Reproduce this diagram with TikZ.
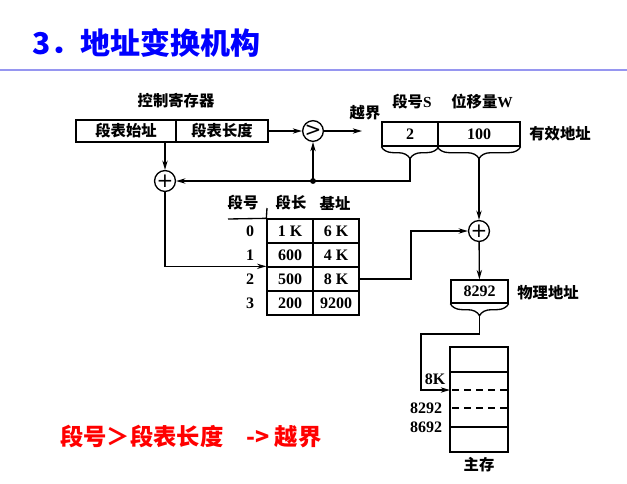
\documentclass[tikz,border=0pt]{standalone}
\usepackage{fontspec}
\setmainfont{Liberation Serif}
\newfontfamily\cjk{Noto Sans CJK SC}
\newfontfamily\symf{DejaVu Sans}
\usetikzlibrary{arrows.meta,decorations.pathreplacing,calc}
\definecolor{rulecol}{RGB}{150,150,240}
\begin{document}
\begin{tikzpicture}[x=0.75pt,y=-0.75pt,
  conn/.style={line width=1pt},
  arr/.style={conn,-{Stealth[length=7pt,width=4pt]}},
  cell/.style={draw,line width=1pt,inner sep=0pt,font=\bfseries\fontsize{12}{14}\selectfont,minimum height=18pt},
  ccell/.style={cell,font=\cjk\bfseries\fontsize{11.5}{14}\selectfont},
  lab/.style={inner sep=0pt,font=\cjk\bfseries\fontsize{11.5}{13}\selectfont},
  num/.style={inner sep=0pt,font=\bfseries\fontsize{12}{14}\selectfont},
  sumc/.style={draw,circle,line width=1pt,minimum size=15.5pt,inner sep=0pt,font=\symf\fontsize{15}{15}\selectfont},
  brc/.style={decorate,decoration={brace,mirror,amplitude=9pt},line width=1pt}
]
\useasboundingbox (0,0) rectangle (627,483);
% title
\node[anchor=west,inner sep=0pt,text=blue,font=\cjk\bfseries\fontsize{22.5}{26}\selectfont] (title) at (32,43) {3．地址变换机构};
\draw[rulecol,line width=1.5pt] (0,70) -- (627,70);
% control register
\node[lab] (crlab) at (176,101) {控制寄存器};
\node[ccell,minimum width=75pt,minimum height=16.5pt] (cstart) at (126,131) {段表始址};
\node[ccell,minimum width=69pt,minimum height=16.5pt] (clen) at (222,131) {段表长度};
\node[sumc] (cmp) at (313,131) {>};
\coordinate (ovf) at (362,131);
\draw[arr] (clen) -- (cmp);
\draw[arr] (cmp) -- (ovf);
\node[lab] (ovflab) at (365,113) {越界};
% logical address
\node[cell,minimum width=42pt] (segS) at (410,134) {2};
\node[cell,minimum width=61.5pt] (offW) at (479,134) {100};
\node[lab] (Slab) at (412,102) {段号{\rmfamily\bfseries S}};
\node[lab] (Wlab) at (482,102) {位移量{\rmfamily\bfseries W}};
\node[lab] (ealab) at (560,134) {有效地址};
\draw[brc] (segS.south west) -- (segS.south east);
\draw[brc] (offW.south west) -- (offW.south east);
\coordinate (segtip) at ($(segS.south)+(0,12)$);
\coordinate (offtip) at ($(offW.south)+(0,12)$);
% adder 1
\node[sumc] (add1) at (165,181) {+};
\draw[arr] (add1 |- cstart.south) -- (add1);
\draw[arr] (segtip) |- (add1);
\coordinate (junc) at (313,181);
\fill (junc) circle (2.2pt);
\draw[arr] (junc) -- (cmp);
% segment table
\node[lab] (h0) at (243,203) {段号};
\node[lab] (h1) at (291,203) {段长};
\node[lab] (h2) at (335,203) {基址};
\foreach \i/\l/\b in {0/1 K/6 K,1/600/4 K,2/500/8 K,3/200/9200}{
  \node[cell,minimum width=34.5pt] (t\i l) at (290,231+24*\i) {\l};
  \node[cell,minimum width=34.5pt] (t\i b) at (336,231+24*\i) {\b};
  \node[num] (r\i) at (250,231+24*\i) {\i};
}
\draw[conn] (228,219) -- (t0l.north west);
\draw[conn] (267,208) -- (t0l.north west);
\draw[arr] (add1) |- (t2l.north west);
% adder 2
\node[sumc] (add2) at (479,231) {+};
\coordinate (k1) at (411,231);
\draw[arr] (t2b.east) -| (k1) -- (add2);
\draw[arr] (offtip) -- (add2);
% physical address
\node[cell,minimum width=42.75pt,minimum height=17.25pt] (phys) at (479.5,291.5) {8292};
\draw[arr] (add2) -- (phys);
\node[lab] (physlab) at (548,293) {物理地址};
\draw[brc] (phys.south west) -- (phys.south east);
\coordinate (phystip) at ($(phys.south)+(0,12)$);
% memory
\node[draw,line width=1pt,minimum width=43.5pt,minimum height=78.75pt,inner sep=0pt] (mem) at (479,399.5) {};
\draw[conn] (450,372) -- (508,372);
\draw[conn,dash pattern=on 5pt off 4pt] (452,390) -- (508,390);
\draw[conn,dash pattern=on 5pt off 4pt] (452,408) -- (508,408);
\draw[conn] (450,427) -- (508,427);
\coordinate (k2) at (421,334);
\coordinate (m8k) at (450,390);
\draw[arr] (phystip) |- (k2) |- (m8k);
\node[num] (l8k) at (435,379) {8K};
\node[num] (l8292) at (426,408) {8292};
\node[num] (l8692) at (426,427) {8692};
\node[lab] (memlab) at (479,465) {主存};
% note
\node[anchor=west,inner sep=0pt,text=red,font=\cjk\bfseries\fontsize{17.5}{20}\selectfont] (note) at (60,437) {段号＞段表长度\hspace{17pt}-> 越界};
\end{tikzpicture}
\end{document}
